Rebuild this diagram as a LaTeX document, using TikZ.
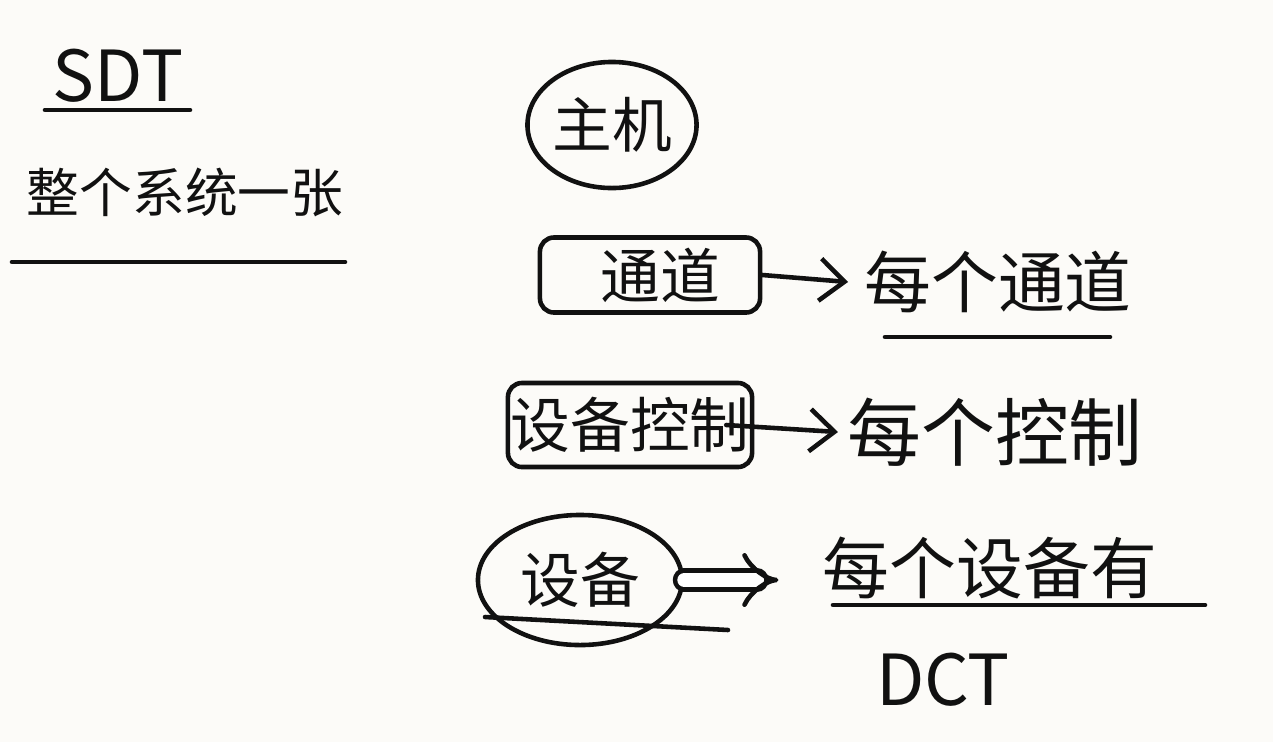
\documentclass[tikz,border=0pt]{standalone}
\usepackage{fontspec}
\setmainfont{Noto Sans CJK SC}
\usetikzlibrary{arrows.meta,shapes.geometric}
\definecolor{paper}{HTML}{FCFBF8}
\definecolor{ink}{HTML}{111111}
\begin{document}
\begin{tikzpicture}[x=0.01cm,y=-0.01cm,line width=1.3pt,line cap=round,line join=round,draw=ink,
  lbl/.style={inner sep=0pt,text=ink,font=\fontsize{17}{20}\selectfont},
  big/.style={lbl,font=\fontsize{20}{24}\selectfont},
  oval/.style={draw,ellipse,inner sep=0pt,text=ink,font=\fontsize{17}{20}\selectfont},
  boxed/.style={draw,rectangle,rounded corners=4pt,inner sep=0pt,text=ink,font=\fontsize{17}{20}\selectfont},
  arr/.style={-{Straight Barb[length=7pt,width=12pt]}},
  darr/.style={double,double distance=4pt,-{Implies[length=8pt,width=14pt]}}]
\fill[paper] (0,0) rectangle (1273,742);
\useasboundingbox (0,0) rectangle (1273,742);

% system-wide table, left column
\node[big] (sdt) at (118,76) {SDT};
\coordinate (sdtL) at (45,110);
\coordinate (sdtR) at (190,110);
\draw (sdtL) -- (sdtR);
\node[lbl,font=\fontsize{15}{18}\selectfont] (whole) at (185,192) {整个系统一张};
\coordinate (wholeL) at (12,262);
\coordinate (wholeR) at (345,262);
\draw (wholeL) -- (wholeR);

% hierarchy: host, channel, controller, device
\node[oval,minimum width=1.69cm,minimum height=1.26cm] (host) at (612,125) {主机};
\node[boxed,minimum width=2.2cm,minimum height=0.75cm] (chan) at (650,275) {\hspace*{0.2cm}通道};
\node[boxed,minimum width=2.44cm,minimum height=0.84cm] (ctrl) at (630,425) {设备控制};
\node[oval,minimum width=2.04cm,minimum height=1.3cm] (dev) at (580,580) {设备};
\coordinate (devL) at (485,617);
\coordinate (devR) at (728,630);
\draw (devL) -- (devR);

% per-item tables
\node[lbl,font=\fontsize{19}{22}\selectfont] (chanT) at (998,282) {每个通道};
\coordinate (chanTL) at (885,337);
\coordinate (chanTR) at (1110,337);
\draw (chanTL) -- (chanTR);
\node[lbl,font=\fontsize{21}{24}\selectfont] (ctrlT) at (995,432) {每个控制};
\node[lbl,font=\fontsize{19}{22}\selectfont] (devT) at (990,568) {每个设备有};
\coordinate (devTL) at (833,605);
\coordinate (devTR) at (1205,605);
\draw (devTL) -- (devTR);
\node[big] (dct) at (943,680) {DCT};

% links
\draw[arr] (chan.east) -- ([xshift=-4pt]chanT.west);
\draw[arr] ([xshift=-8pt]ctrl.east) -- ([xshift=-2pt]ctrlT.west);
\coordinate (devTin) at ([xshift=-12pt]devT.west |- dev.east);
\draw[darr] (dev.east) -- (devTin);
\end{tikzpicture}
\end{document}
